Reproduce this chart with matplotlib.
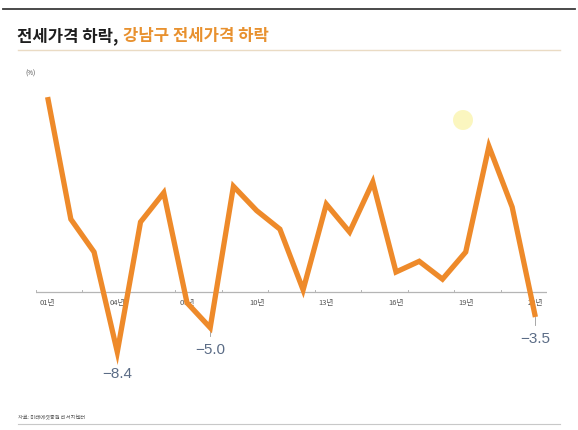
import matplotlib
matplotlib.use("Agg")
import matplotlib.pyplot as plt
from matplotlib.lines import Line2D
from matplotlib.patches import Ellipse

# 연도(01~22) 및 전세가격 변동률(%)
years = list(range(1, 23))
year_labels = ["01년", "04년", "07년", "10년", "13년", "16년", "19년", "22년"]
label_years = [1, 4, 7, 10, 13, 16, 19, 22]
values = [27.3, 10.2, 5.6, -8.4, 9.8, 13.9, -1.5, -5.0, 14.8, 11.4, 8.8,
          0.3, 12.3, 8.4, 15.4, 2.8, 4.3, 1.8, 5.6, 20.4, 11.9, -3.5]
# 값 표시할 연도
annot_years = [4, 8, 22]

ORANGE = "#EE8A2A"
KFONT = ["Noto Sans CJK KR", "DejaVu Sans"]

plt.rcParams["font.family"] = KFONT

W, H = 578, 431
fig = plt.figure(figsize=(W / 100, H / 100), dpi=100)
fig.patch.set_facecolor("white")

def fx(px):
    return px / W

def fy(py):
    return 1 - py / H

# 상단 굵은 선, 제목 밑줄, 하단 선
fig.add_artist(Line2D([fx(3), fx(575)], [fy(10), fy(10)], color="#3a3a3a", lw=1.3))
fig.add_artist(Line2D([fx(18), fx(560)], [fy(51), fy(51)], color="#eadbc4", lw=1.0))
fig.add_artist(Line2D([fx(18), fx(560)], [fy(425), fy(425)], color="#c8c8c8", lw=0.8))

# 제목 (두 가지 색)
t1 = fig.text(fx(17), fy(36), "전세가격 하락,", fontsize=12, fontweight="bold",
              color="#1e1e1e", va="center", ha="left")
renderer = fig.canvas.get_renderer()
bb = t1.get_window_extent(renderer=renderer)
fig.text(fx(bb.x1 + 5), fy(36), "강남구 전세가격 하락", fontsize=12, fontweight="bold",
         color="#E8912F", va="center", ha="left")

fig.text(fx(25), fy(74), "(%)", fontsize=4.5, color="#444444", va="center")
fig.text(fx(18), fy(417), "자료: 미래에셋증권 리서치센터", fontsize=3.8,
         color="#555555", va="center")

# 차트 영역: x 0.5~22.5 -> 36~547px, y 0 -> 293px, 7.14px/%
ymin, ymax = -12, 29
px_per = 7.14
top_px = 293 - ymax * px_per
bot_px = 293 - ymin * px_per
ax = fig.add_axes([fx(36), fy(bot_px), fx(547) - fx(36), (bot_px - top_px) / H])
ax.set_xlim(0.5, 22.5)
ax.set_ylim(ymin, ymax)
ax.axis("off")

# 0 기준선과 눈금
ax.axhline(0, color="#b5b5b5", lw=0.9, zorder=1)
for t in range(0, 12):
    xt = 0.5 + 2 * t
    ax.plot([xt, xt], [0, 0.35], color="#b5b5b5", lw=0.7, zorder=1)
for yr, lab in zip(label_years, year_labels):
    ax.text(yr, -0.9, lab, fontsize=5.5, color="#555555", ha="center", va="top")

ax.plot(years, values, color=ORANGE, lw=3.8, solid_joinstyle="miter",
        solid_capstyle="butt", zorder=3)

for yr in annot_years:
    v = values[yr - 1]
    ax.plot([yr, yr], [v, v - 1.1], color="#999999", lw=0.6, zorder=2)
    ax.annotate(f"\u2212{abs(v):.1f}", xy=(yr, v), xytext=(0, -15),
                textcoords="offset points", ha="center", va="center",
                fontsize=11, color="#5B6C86", family=["Liberation Sans", "DejaVu Sans"])

# 화면 녹화 커서 표시
fig.add_artist(Ellipse((fx(463), fy(121)), 20 / W, 20 / H, transform=fig.transFigure,
                       facecolor="#fbf6b8", edgecolor="none", alpha=0.9))

fig.savefig("out.png", dpi=100, facecolor="white")
